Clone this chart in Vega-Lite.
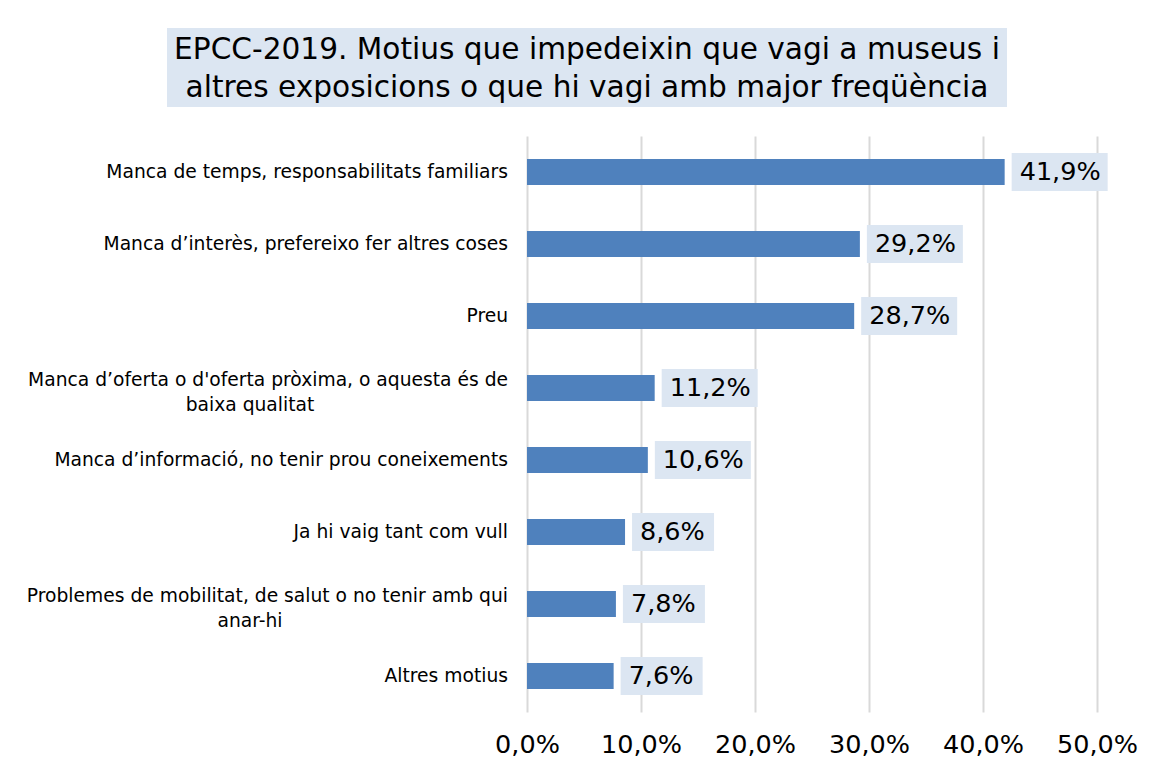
{
  "$schema": "https://vega.github.io/schema/vega-lite/v6.json",
  "padding": {"top": 28, "left": 25, "right": 5, "bottom": 5},
  "background": "white",
  "config": {
    "view": {"stroke": null},
    "font": "DejaVu Sans",
    "locale": {"number": {"decimal": ",", "thousands": ".", "grouping": [3], "currency": ["", " €"]}}
  },
  "datasets": {
    "d": [
      {"l1": "Manca de temps, responsabilitats familiars", "l2": "", "v": 0.419},
      {"l1": "Manca d’interès, prefereixo fer altres coses", "l2": "", "v": 0.292},
      {"l1": "Preu", "l2": "", "v": 0.287},
      {"l1": "Manca d’oferta o d'oferta pròxima, o aquesta és de", "l2": "baixa qualitat", "v": 0.112},
      {"l1": "Manca d’informació, no tenir prou coneixements", "l2": "", "v": 0.106},
      {"l1": "Ja hi vaig tant com vull", "l2": "", "v": 0.086},
      {"l1": "Problemes de mobilitat, de salut o no tenir amb qui", "l2": "anar-hi", "v": 0.078},
      {"l1": "Altres motius", "l2": "", "v": 0.076}
    ]
  },
  "spacing": 29,
  "vconcat": [
    {
      "spacing": 0,
      "hconcat": [
        {
          "width": 142,
          "height": 79,
          "data": {"values": [{}]},
          "mark": {"type": "text", "text": ""},
          "encoding": {}
        },
        {
          "width": 840,
          "height": 79,
          "view": {"fill": "#dce6f2", "stroke": null},
          "data": {"values": [{}]},
          "mark": {
            "type": "text",
            "text": ["EPCC-2019. Motius que impedeixin que vagi a museus i", "altres exposicions o que hi vagi amb major freqüència"],
            "fontSize": 29.6,
            "lineHeight": 38,
            "align": "center",
            "baseline": "middle",
            "dy": -18,
            "color": "#000000"
          },
          "encoding": {}
        }
      ]
    },
    {
      "spacing": 19,
      "bounds": "flush",
      "hconcat": [
        {
          "width": 483,
          "height": 576,
          "data": {"name": "d"},
          "encoding": {
            "y": {
              "field": "l1",
              "type": "nominal",
              "sort": [
                "Manca de temps, responsabilitats familiars",
                "Manca d’interès, prefereixo fer altres coses",
                "Preu",
                "Manca d’oferta o d'oferta pròxima, o aquesta és de",
                "Manca d’informació, no tenir prou coneixements",
                "Ja hi vaig tant com vull",
                "Problemes de mobilitat, de salut o no tenir amb qui",
                "Altres motius"
              ],
              "axis": null,
              "scale": {"paddingInner": 0.64, "paddingOuter": 0.32}
            }
          },
          "layer": [
            {
              "transform": [{"filter": "datum.l2 == ''"}],
              "mark": {"type": "text", "align": "right", "baseline": "middle", "dx": 241.5, "fontSize": 18.7, "color": "#000000"},
              "encoding": {"text": {"field": "l1"}}
            },
            {
              "transform": [{"filter": "datum.l2 != ''"}],
              "mark": {"type": "text", "align": "right", "baseline": "middle", "dx": 241.5, "dy": -8, "fontSize": 18.7, "color": "#000000"},
              "encoding": {"text": {"field": "l1"}}
            },
            {
              "transform": [{"filter": "datum.l2 != ''"}],
              "mark": {"type": "text", "align": "center", "baseline": "middle", "dx": -16.5, "dy": 17, "fontSize": 18.7, "color": "#000000"},
              "encoding": {"text": {"field": "l2"}}
            }
          ]
        },
        {
          "width": 570,
          "height": 576,
          "data": {"name": "d"},
          "encoding": {
            "y": {
              "field": "l1",
              "type": "nominal",
              "sort": [
                "Manca de temps, responsabilitats familiars",
                "Manca d’interès, prefereixo fer altres coses",
                "Preu",
                "Manca d’oferta o d'oferta pròxima, o aquesta és de",
                "Manca d’informació, no tenir prou coneixements",
                "Ja hi vaig tant com vull",
                "Problemes de mobilitat, de salut o no tenir amb qui",
                "Altres motius"
              ],
              "axis": null,
              "scale": {"paddingInner": 0.64, "paddingOuter": 0.32}
            }
          },
          "layer": [
            {
              "mark": {"type": "bar", "color": "#4f81bd"},
              "encoding": {
                "x": {
                  "field": "v",
                  "type": "quantitative",
                  "scale": {"domain": [0, 0.5], "nice": false},
                  "axis": {
                    "values": [0, 0.1, 0.2, 0.3, 0.4, 0.5],
                    "format": ".1%",
                    "title": null,
                    "grid": true,
                    "gridColor": "#d9d9d9",
                    "gridWidth": 2,
                    "domain": false,
                    "ticks": false,
                    "labelFontSize": 25.5,
                    "labelColor": "#000000",
                    "labelPadding": 20,
                    "labelFlush": false,
                    "labelOverlap": false
                  }
                }
              }
            },
            {
              "transform": [{"filter": "datum.v >= 0.1"}],
              "mark": {"type": "bar", "color": "#dce6f2", "height": 38, "xOffset": 7, "x2Offset": 103},
              "encoding": {"x": {"field": "v", "type": "quantitative"}, "x2": {"field": "v"}}
            },
            {
              "transform": [{"filter": "datum.v < 0.1"}],
              "mark": {"type": "bar", "color": "#dce6f2", "height": 38, "xOffset": 7, "x2Offset": 89},
              "encoding": {"x": {"field": "v", "type": "quantitative"}, "x2": {"field": "v"}}
            },
            {
              "mark": {"type": "text", "align": "left", "baseline": "middle", "dx": 15, "fontSize": 25.5, "color": "#000000"},
              "encoding": {
                "x": {"field": "v", "type": "quantitative"},
                "text": {"field": "v", "type": "quantitative", "format": ".1%"}
              }
            }
          ]
        }
      ]
    }
  ]
}
